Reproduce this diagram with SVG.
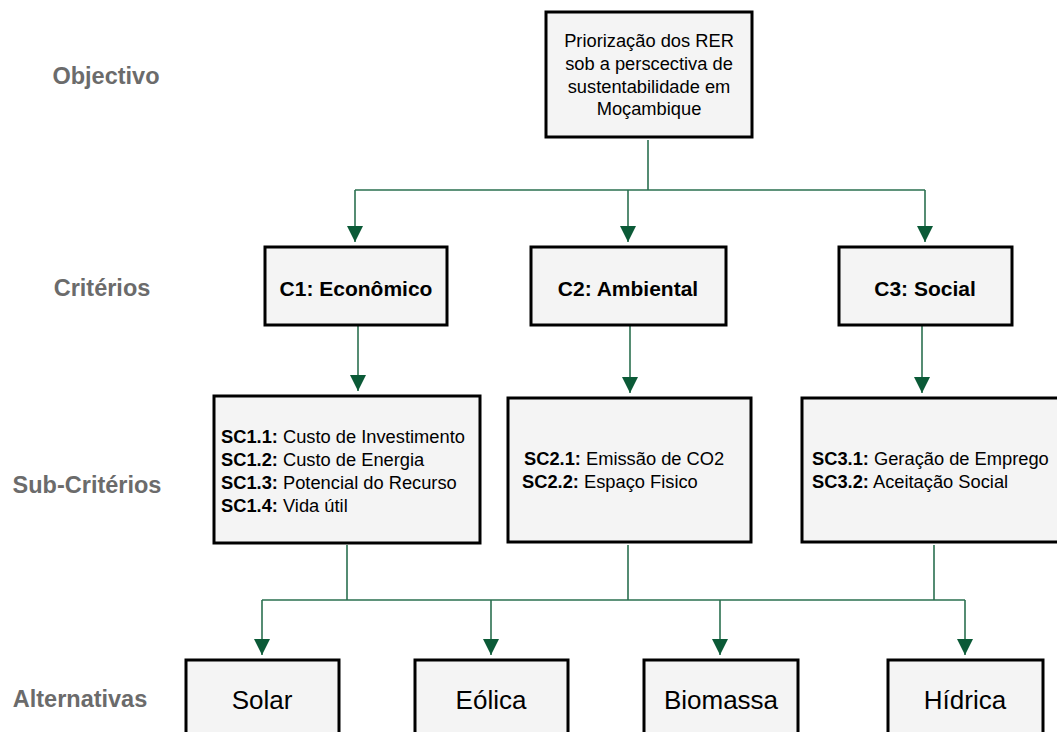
<svg xmlns="http://www.w3.org/2000/svg" width="1057" height="732" viewBox="0 0 1057 732">
<style>
.box{fill:#f4f4f4;stroke:#000;stroke-width:3}
.lvl{font-family:"Liberation Sans",Arial,sans-serif;font-weight:bold;font-size:23.5px;fill:#6b6b6b}
.t{font-family:"Liberation Sans",Arial,sans-serif;fill:#000}
.obj{font-size:18.3px}
.crit{font-size:21px;font-weight:bold}
.sub{font-size:18.3px}
.sub tspan.b{font-weight:bold}
.alt{font-size:26px}
.con{fill:none;stroke:#2b7050;stroke-width:1.6}
</style>
<defs>
<marker id="ah" markerUnits="userSpaceOnUse" markerWidth="16" markerHeight="16" viewBox="0 0 14 14" refX="14" refY="7" orient="auto">
<path d="M0,0 L14,7 L0,14 Z" fill="#0b5a37"/>
</marker>
</defs>
<rect width="1057" height="732" fill="#fff"/>
<g id="labels">
<text class="lvl" x="106" y="84" text-anchor="middle">Objectivo</text>
<text class="lvl" x="102" y="296" text-anchor="middle">Critérios</text>
<text class="lvl" x="87" y="493" text-anchor="middle">Sub-Critérios</text>
<text class="lvl" x="80" y="707" text-anchor="middle">Alternativas</text>
</g>
<g id="connectors">
<path class="con" d="M648,140 V190 M355,190 H925"/>
<path class="con" d="M355,190 V242" marker-end="url(#ah)"/>
<path class="con" d="M628,190 V242" marker-end="url(#ah)"/>
<path class="con" d="M925,190 V242" marker-end="url(#ah)"/>
<path class="con" d="M358,326 V391" marker-end="url(#ah)"/>
<path class="con" d="M630,326 V393" marker-end="url(#ah)"/>
<path class="con" d="M922,326 V393" marker-end="url(#ah)"/>
<path class="con" d="M347,545 V600 M628,545 V600 M934,545 V600 M262,600 H965"/>
<path class="con" d="M262,600 V655" marker-end="url(#ah)"/>
<path class="con" d="M491,600 V655" marker-end="url(#ah)"/>
<path class="con" d="M720,600 V655" marker-end="url(#ah)"/>
<path class="con" d="M965,600 V655" marker-end="url(#ah)"/>
</g>
<g id="objective">
<rect class="box" x="546" y="12" width="206" height="125"/>
<text class="t obj" text-anchor="middle" x="649"><tspan x="649" y="47">Priorização dos RER</tspan><tspan x="649" y="70">sob a perscectiva de</tspan><tspan x="649" y="93">sustentabilidade em</tspan><tspan x="649" y="115">Moçambique</tspan></text>
</g>
<g id="c1">
<rect class="box" x="265" y="247" width="182" height="78"/>
<text class="t crit" x="356" y="296" text-anchor="middle">C1: Econômico</text>
</g>
<g id="c2">
<rect class="box" x="531" y="247" width="195" height="78"/>
<text class="t crit" x="628" y="296" text-anchor="middle">C2: Ambiental</text>
</g>
<g id="c3">
<rect class="box" x="839" y="247" width="173" height="78"/>
<text class="t crit" x="925" y="296" text-anchor="middle">C3: Social</text>
</g>
<g id="sc1">
<rect class="box" x="214" y="396" width="266" height="147"/>
<text class="t sub"><tspan x="221" y="443"><tspan class="b">SC1.1:</tspan> Custo de Investimento</tspan><tspan x="221" y="466"><tspan class="b">SC1.2:</tspan> Custo de Energia</tspan><tspan x="221" y="489"><tspan class="b">SC1.3:</tspan> Potencial do Recurso</tspan><tspan x="221" y="512"><tspan class="b">SC1.4:</tspan> Vida útil</tspan></text>
</g>
<g id="sc2">
<rect class="box" x="508" y="398" width="243" height="144"/>
<text class="t sub"><tspan x="524" y="465"><tspan class="b">SC2.1:</tspan> Emissão de CO2</tspan><tspan x="522" y="488"><tspan class="b">SC2.2:</tspan> Espaço Fisico</tspan></text>
</g>
<g id="sc3">
<rect class="box" x="802" y="398" width="262" height="144"/>
<text class="t sub"><tspan x="812" y="465"><tspan class="b">SC3.1:</tspan> Geração de Emprego</tspan><tspan x="812" y="488"><tspan class="b">SC3.2:</tspan> Aceitação Social</tspan></text>
</g>
<g id="solar">
<rect class="box" x="186" y="660" width="153" height="80"/>
<text class="t alt" x="262" y="709" text-anchor="middle">Solar</text>
</g>
<g id="eolica">
<rect class="box" x="415" y="660" width="153" height="80"/>
<text class="t alt" x="491" y="709" text-anchor="middle">Eólica</text>
</g>
<g id="biomassa">
<rect class="box" x="644" y="660" width="154" height="80"/>
<text class="t alt" x="721" y="709" text-anchor="middle">Biomassa</text>
</g>
<g id="hidrica">
<rect class="box" x="888" y="660" width="155" height="80"/>
<text class="t alt" x="965" y="709" text-anchor="middle">Hídrica</text>
</g>
</svg>
